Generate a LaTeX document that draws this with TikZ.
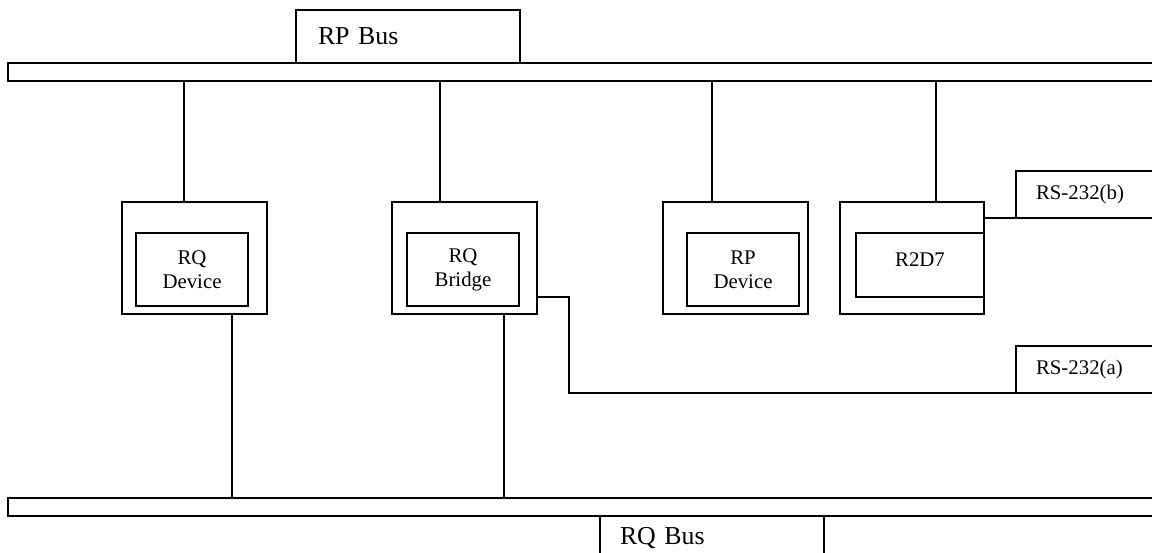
\documentclass[tikz,border=0pt]{standalone}
\usepackage{fontspec}
\setmainfont{Liberation Serif}
\usetikzlibrary{positioning}
\newlength\pxu
\setlength\pxu{0.48pt}
\tikzset{
  bus/.style={draw, line width=0.8pt, outer sep=0pt, minimum width=1170\pxu, minimum height=18\pxu, inner sep=0pt, anchor=north west},
  tag/.style={draw, line width=0.8pt, outer sep=0pt, anchor=north west, inner ysep=0pt, inner xsep=#1\pxu, align=left},
  outbox/.style={draw, line width=0.8pt, outer sep=0pt, minimum width=145\pxu, minimum height=112\pxu, anchor=north west},
  inbox/.style={draw, line width=0.8pt, outer sep=0pt, minimum width=112\pxu, minimum height=73\pxu, inner sep=0pt, align=center},
  wire/.style={line width=0.8pt},
}

\begin{document}
\begin{tikzpicture}[x=0.48pt, y=-0.48pt, node distance=0pt,
    big/.style={font=\fontsize{12.4}{15}\selectfont},
    small/.style={font=\fontsize{10}{11.5}\selectfont}]
  \useasboundingbox (0,0) rectangle (1152,552);
  % buses
  \node[bus] (rpbus) at (8,63) {};
  \node[bus] (rqbus) at (8,498) {};
  \node[tag=22, big, text width=180\pxu, minimum height=53\pxu] (rplabel) at (296,10) {RP Bus};
  \node[tag=20, big, text width=184\pxu, minimum height=44\pxu] (rqlabel) at (600,516) {RQ Bus};
  \node[tag=20, small, text width=140\pxu, minimum height=47\pxu] (rsb) at (1016,171) {RS-232(b)};
  \node[tag=20, small, text width=140\pxu, minimum height=47\pxu] (rsa) at (1016,346) {RS-232(a)};

  % devices
  \node[outbox] (rqdev) at (122,202) {};
  \node[outbox] (bridge) at (392,202) {};
  \node[outbox] (rpdev) at (663,202) {};
  \node[outbox, minimum width=144\pxu] (r2d7) at (840,202) {};
  \node[inbox, small, below right=31\pxu and 14\pxu of rqdev.north west, anchor=north west] (rqdevin) {RQ\\Device};
  \node[inbox, small, below right=31\pxu and 15\pxu of bridge.north west, anchor=north west] (bridgein) {RQ\\Bridge};
  \node[inbox, small, below right=31\pxu and 24\pxu of rpdev.north west, anchor=north west] (rpdevin) {RP\\Device};
  \node[inbox, small, minimum width=128\pxu, minimum height=64\pxu, text height=33\pxu, text depth=31\pxu,
    below right=31\pxu and 16\pxu of r2d7.north west, anchor=north west] (r2d7in) {R2D7};

  % taps on the RP bus
  \coordinate (t1) at ([xshift=62\pxu]rqdev.north west);
  \coordinate (t2) at ([xshift=48\pxu]bridge.north west);
  \coordinate (t3) at ([xshift=49\pxu]rpdev.north west);
  \coordinate (t4) at ([xshift=96\pxu]r2d7.north west);
  \foreach \t in {t1,t2,t3,t4}
    \draw[wire] (\t) -- (\t |- rpbus.south);

  % taps on the RQ bus
  \coordinate (b1) at ([xshift=110\pxu]rqdev.south west);
  \coordinate (b2) at ([xshift=112\pxu]bridge.south west);
  \foreach \b in {b1,b2}
    \draw[wire] (\b) -- (\b |- rqbus.north);

  % serial links
  \coordinate (s1) at ([yshift=-95\pxu]bridge.north east);
  \coordinate (s2) at ([yshift=-16\pxu]r2d7.north east);
  \draw[wire] (s1) -- ++(32,0) |- (rsa.south west);
  \draw[wire] (s2) -- (rsb.south west);
\end{tikzpicture}
\end{document}
